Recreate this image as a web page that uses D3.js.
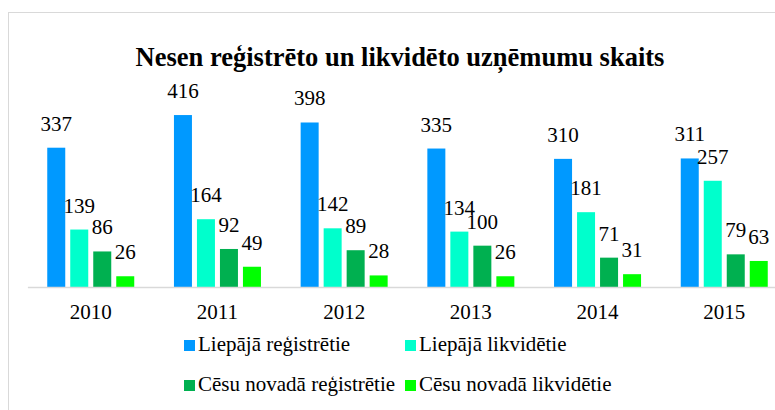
<!DOCTYPE html>
<html>
<head>
<meta charset="utf-8">
<script src="https://cdn.jsdelivr.net/npm/d3@7"></script>
<style>
  body { margin: 0; background: #fff; }
</style>
</head>
<body>
<svg id="chart" width="775" height="410"></svg>
<script>
const years = ['2010', '2011', '2012', '2013', '2014', '2015'];
const seriesNames = ['Liepājā reģistrētie', 'Liepājā likvidētie', 'Cēsu novadā reģistrētie', 'Cēsu novadā likvidētie'];
const liepajaReg = [337, 416, 398, 335, 310, 311];
const liepajaLikv = [139, 164, 142, 134, 181, 257];
const cesuReg = [86, 92, 89, 100, 71, 79];
const cesuLikv = [26, 49, 28, 26, 31, 63];
const colors = ['#0099ff', '#00ffcc', '#00b050', '#00ff00'];

const FONT = '"Liberation Serif", "Times New Roman", serif';
const allSeries = [liepajaReg, liepajaLikv, cesuReg, cesuLikv];
const rows = years.map((y, i) => ({ year: y, values: allSeries.map((s, k) => ({ key: seriesNames[k], value: s[i], color: colors[k] })) }));

const svg = d3.select('#chart');
const baseY = 287;

// chart frame (runs off the bottom/right edge like the source)
svg.append('rect')
  .attr('x', 8.5).attr('y', 12.5)
  .attr('width', 800).attr('height', 420)
  .attr('fill', 'none').attr('stroke', '#d9d9d9');

svg.append('text')
  .attr('x', 400).attr('y', 66)
  .attr('text-anchor', 'middle')
  .attr('font-family', FONT)
  .attr('font-size', 26.5).attr('font-weight', 'bold')
  .text('Nesen reģistrēto un likvidēto uzņēmumu skaits');

const x0 = d3.scaleBand().domain(years).range([27.4, 787.6]);
const x1 = d3.scaleBand().domain(seriesNames).range([0, 87]).paddingInner(5 / 23);
const y = d3.scaleLinear().domain([0, 450]).range([baseY, 101]);
const groupOffset = (x0.bandwidth() - 87) / 2;

const groups = svg.append('g').selectAll('g')
  .data(rows)
  .enter()
  .append('g')
  .attr('transform', d => `translate(${x0(d.year) + groupOffset},0)`);

groups.selectAll('rect')
  .data(d => d.values)
  .enter()
  .append('rect')
  .attr('x', d => x1(d.key))
  .attr('y', d => y(d.value))
  .attr('width', x1.bandwidth())
  .attr('height', d => y(0) - y(d.value))
  .attr('fill', d => d.color);

groups.selectAll('text')
  .data(d => d.values)
  .enter()
  .append('text')
  .attr('x', d => x1(d.key) + x1.bandwidth() / 2)
  .attr('y', d => y(d.value) - 17)
  .attr('text-anchor', 'middle')
  .attr('font-family', FONT)
  .attr('font-size', 21)
  .attr('fill', '#000')
  .text(d => d.value);

const xAxis = svg.append('g')
  .attr('transform', `translate(0,${baseY})`)
  .call(d3.axisBottom(x0).tickSize(0).tickPadding(0));
xAxis.select('.domain').attr('stroke', '#d9d9d9').attr('stroke-width', 1.5);
xAxis.selectAll('text')
  .attr('font-family', FONT)
  .attr('font-size', 21)
  .attr('fill', '#000')
  .attr('dy', null)
  .attr('y', 32);

// legend, two columns
const legendPos = [[184, 340], [405, 340], [184, 380], [405, 380]];
const legend = svg.append('g').selectAll('g')
  .data(seriesNames)
  .enter()
  .append('g')
  .attr('transform', (d, i) => `translate(${legendPos[i][0]},${legendPos[i][1]})`);
legend.append('rect')
  .attr('width', 11).attr('height', 11)
  .attr('fill', (d, i) => colors[i]);
legend.append('text')
  .attr('x', 14).attr('y', 11)
  .attr('font-family', FONT)
  .attr('font-size', 21)
  .text(d => d);
</script>
</body>
</html>
